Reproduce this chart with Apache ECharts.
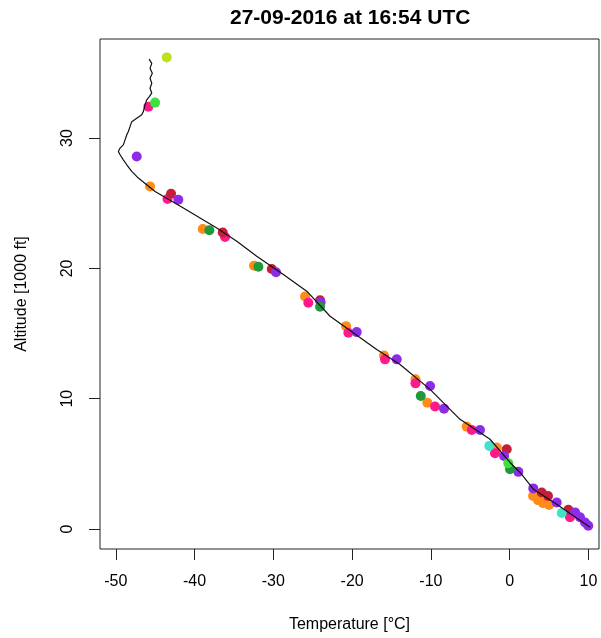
<!DOCTYPE html>
<html>
<head>
<meta charset="utf-8">
<script src="https://cdn.jsdelivr.net/npm/echarts@6/dist/echarts.min.js"></script>
<style>html,body{margin:0;padding:0;background:#fff}#c{width:601px;height:638px}</style>
</head>
<body>
<div id="c"></div>
<script>
const titleText = '27-09-2016 at 16:54 UTC';
const xName = 'Temperature [°C]';
const yName = 'Altitude [1000 ft]';
const xTicks = [-50, -40, -30, -20, -10, 0, 10];
const yTicks = [0, 10, 20, 30];

// sounding profile: [temperature, altitude]
const profile = [
  [-45.77,36.06],[-45.43,35.73],[-45.65,35.35],[-45.36,34.97],[-45.65,34.59],[-45.43,34.20],
  [-45.65,33.82],[-45.43,33.44],[-45.74,33.18],[-46.07,32.93],[-46.28,32.55],[-46.50,32.03],
  [-46.70,31.78],[-47.34,31.52],[-47.97,31.26],[-48.19,30.88],[-48.40,30.50],[-48.60,30.25],
  [-48.82,29.86],[-49.04,29.48],[-49.45,29.23],[-49.67,28.97],[-49.45,28.72],[-49.04,28.33],
  [-48.60,27.95],[-47.97,27.44],[-47.13,26.93],[-46.07,26.42],[-45.01,25.90],[-41.42,24.63],
  [-37.18,23.10],[-34.64,22.08],[-32.11,20.93],[-28.73,19.53],[-25.76,18.25],[-22.80,16.33],
  [-16.88,13.78],[-13.92,12.63],[-10.11,10.72],[-6.31,8.42],[-2.50,6.89],[0.04,5.11],
  [1.31,4.34],[3.00,3.06],[5.96,1.91],[10.19,0.13]
];

// aircraft observations grouped by aircraft
const obsOrange = [[-45.65,26.29],[-38.96,23.02],[-32.45,20.21],[-25.98,17.84],[-20.77,15.57],[-15.95,13.32],
  [-11.96,11.49],[-10.46,9.70],[-5.46,7.86],[-1.65,6.26],[2.96,2.53],[3.59,2.22],[4.23,1.99],[4.99,1.84]];
const obsPink = [[-45.86,32.41],[-43.43,25.32],[-36.13,22.41],[-25.56,17.36],[-20.48,15.06],[-15.83,13.02],
  [-11.96,11.18],[-9.48,9.40],[-4.82,7.60],[-1.87,5.82],[7.65,0.90]];
const obsDarkRed = [[-42.98,25.73],[-36.42,22.76],[-30.20,19.96],[-24.07,17.56],[-0.38,6.13],[4.06,2.81],[4.86,2.53],[7.44,1.48]];
const obsPurple = [[-47.34,28.58],[-42.06,25.27],[-29.66,19.70],[-24.0,17.4],[-19.42,15.11],[-14.34,13.02],[-10.11,10.97],
  [-8.34,9.24],[-3.77,7.60],[-0.72,5.61],[1.09,4.39],[2.99,3.12],[5.96,2.04],[8.29,1.28],[8.92,0.90],[9.56,0.51],[9.97,0.25]];
const obsGreen = [[-38.12,22.92],[-31.90,20.12],[-24.07,17.05],[-11.29,10.21],[0.04,4.59]];
const obsLime = [[-45.01,32.72],[-0.18,5.05]];
const obsYellowGreen = [[-43.53,36.19]];
const obsCyan = [[-2.59,6.38],[6.60,1.23]];

const groups = [
  ['orange', obsOrange, '#FF8C1A'],
  ['pink', obsPink, '#FF1A8C'],
  ['darkred', obsDarkRed, '#C41E3A'],
  ['purple', obsPurple, '#8E2BE8'],
  ['green', obsGreen, '#1E9A3C'],
  ['lime', obsLime, '#3EE03E'],
  ['yellowgreen', obsYellowGreen, '#BCE21E'],
  ['cyan', obsCyan, '#3FE3C8']
];

const font = 'Liberation Sans, Arial, Helvetica, sans-serif';
const chart = echarts.init(document.getElementById('c'), null, {renderer: 'canvas'});

const series = groups.map(g => ({
  type: 'scatter', name: g[0], data: g[1], symbolSize: 10,
  itemStyle: {color: g[2], opacity: 1}, z: 2, silent: true
}));
series.push({
  type: 'line', name: 'profile', data: profile, showSymbol: false, symbol: 'none',
  lineStyle: {color: '#111', width: 1.2}, z: 3, silent: true
});

chart.setOption({
  animation: false,
  backgroundColor: '#fff',
  graphic: [{
    type: 'text', left: 356 - 126, top: 8,
    style: {text: titleText, font: 'bold 21px ' + font, fill: '#000'}
  }],
  grid: {left: 100, right: 2, top: 39, bottom: 88, show: true, borderColor: '#222', borderWidth: 1, backgroundColor: 'transparent'},
  xAxis: {
    type: 'value', min: -52, max: 11.33,
    name: xName, nameLocation: 'middle', nameGap: 68,
    nameTextStyle: {fontSize: 16, fontFamily: font, color: '#000'},
    axisLine: {show: false, onZero: false},
    splitLine: {show: false},
    axisTick: {show: true, length: 11, inside: false, customValues: xTicks, lineStyle: {color: '#222'}},
    axisLabel: {customValues: xTicks, fontSize: 16, fontFamily: font, color: '#000', margin: 25}
  },
  yAxis: {
    type: 'value', min: -1.53, max: 37.6,
    name: yName, nameLocation: 'middle', nameGap: 70, nameRotate: 90,
    nameTextStyle: {fontSize: 16, fontFamily: font, color: '#000'},
    axisLine: {show: false, onZero: false},
    splitLine: {show: false},
    axisTick: {show: true, length: 11, inside: false, customValues: yTicks, lineStyle: {color: '#222'}},
    axisLabel: {customValues: yTicks, rotate: 90, fontSize: 16, fontFamily: font, color: '#000', margin: 24}
  },
  series: series
});
</script>
</body>
</html>
